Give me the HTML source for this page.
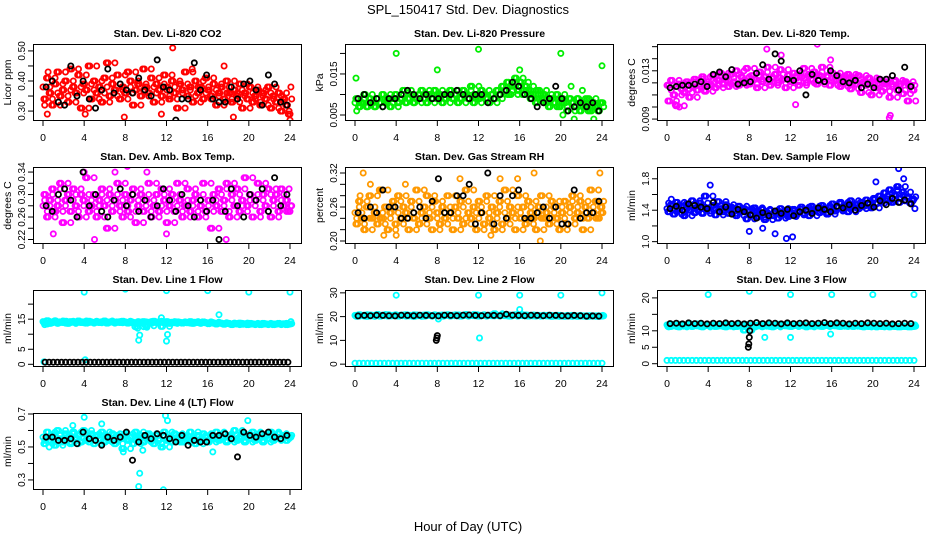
<!DOCTYPE html>
<html><head><meta charset="utf-8"><style>
html,body{margin:0;padding:0;background:#fff}
svg text{font-family:"Liberation Sans",Arial,sans-serif}
</style></head><body>
<svg id="c" width="936" height="540" viewBox="0 0 936 540" xmlns="http://www.w3.org/2000/svg">
<rect width="936" height="540" fill="#fff"/>
<text x="468" y="14" font-size="13" text-anchor="middle">SPL_150417  Std. Dev. Diagnostics</text>
<text x="468" y="531" font-size="13" text-anchor="middle">Hour of Day (UTC)</text>
</svg>
<script>
// ---- data ----
const xTicks=[0,4,8,12,16,20,24];
const co2Red=[0.38,0.34,0.41,0.36,0.32,0.39,0.43,0.35,0.37,0.40,0.33,0.44,0.38,0.36,0.42,0.31,0.39,0.37,0.45,0.34,0.40,0.36,0.38,0.33,0.41,0.46,0.35,0.39,0.37,0.42,0.34,0.38,0.36,0.43,0.40,0.32,0.37,0.39,0.35,0.44,0.38,0.36,0.41,0.33,0.39,0.37,0.35,0.42,0.38,0.34,0.40,0.36,0.31,0.39,0.37,0.43,0.35,0.38,0.33,0.40,0.36,0.38,0.34,0.41,0.37,0.35,0.39,0.32,0.36,0.38,0.34,0.40,0.36,0.33,0.37,0.35,0.39,0.31,0.36,0.34,0.38,0.33,0.35,0.37,0.32,0.36,0.34,0.38,0.31,0.35,0.33,0.36,0.30,0.34,0.32,0.29];
const co2OutX=[0.5,4.1,7.9,11.5,12.6,14.5,17.6,18.5,24];
const co2OutY=[0.43,0.29,0.28,0.29,0.51,0.44,0.45,0.28,0.27];
const co2Black=[0.38,0.40,0.33,0.32,0.45,0.35,0.40,0.34,0.31,0.37,0.44,0.36,0.39,0.37,0.36,0.41,0.37,0.35,0.47,0.38,0.37,0.27,0.34,0.34,0.46,0.37,0.42,0.34,0.33,0.33,0.38,0.34,0.39,0.40,0.37,0.32,0.42,0.39,0.33,0.32];

const presGreen=[0.008,0.009,0.007,0.008,0.010,0.007,0.009,0.008,0.007,0.009,0.008,0.010,0.008,0.009,0.007,0.009,0.010,0.008,0.009,0.011,0.008,0.009,0.010,0.008,0.009,0.010,0.011,0.009,0.008,0.010,0.009,0.011,0.009,0.010,0.008,0.009,0.010,0.011,0.009,0.010,0.008,0.009,0.011,0.010,0.009,0.012,0.008,0.010,0.009,0.011,0.010,0.009,0.008,0.010,0.009,0.011,0.010,0.012,0.011,0.013,0.010,0.012,0.014,0.011,0.013,0.010,0.012,0.011,0.009,0.010,0.008,0.011,0.009,0.010,0.008,0.007,0.009,0.008,0.010,0.007,0.009,0.008,0.006,0.009,0.008,0.007,0.009,0.006,0.008,0.007,0.009,0.006,0.008,0.007,0.006,0.008];
const presOutX=[0.1,4.0,8.0,12.0,16.0,20.0,24.0,21.0,22.1,20.2,21.3,23.2];
const presOutY=[0.014,0.020,0.016,0.021,0.016,0.020,0.017,0.012,0.011,0.005,0.004,0.004];
const presBlack=[0.009,0.010,0.008,0.009,0.007,0.009,0.009,0.010,0.011,0.010,0.009,0.010,0.009,0.009,0.010,0.010,0.011,0.010,0.009,0.010,0.010,0.008,0.009,0.010,0.011,0.013,0.012,0.010,0.009,0.007,0.008,0.009,0.012,0.009,0.006,0.007,0.008,0.007,0.008,0.006];

const tempMag=[0.0118,0.0105,0.0122,0.0110,0.0101,0.0119,0.0115,0.0112,0.0121,0.0108,0.0117,0.0123,0.0114,0.0119,0.0125,0.0113,0.0121,0.0118,0.0126,0.0116,0.0122,0.0128,0.0119,0.0124,0.0117,0.0127,0.0121,0.0130,0.0118,0.0125,0.0122,0.0132,0.0119,0.0126,0.0123,0.0116,0.0129,0.0121,0.0125,0.0133,0.0118,0.0124,0.0127,0.0120,0.0131,0.0123,0.0116,0.0126,0.0121,0.0128,0.0124,0.0118,0.0125,0.0132,0.0120,0.0127,0.0123,0.0129,0.0119,0.0126,0.0133,0.0121,0.0125,0.0118,0.0128,0.0122,0.0126,0.0117,0.0124,0.0120,0.0127,0.0115,0.0123,0.0119,0.0126,0.0112,0.0121,0.0118,0.0124,0.0110,0.0120,0.0116,0.0123,0.0113,0.0119,0.0121,0.0108,0.0117,0.0122,0.0114,0.0119,0.0111,0.0121,0.0105,0.0118,0.0114];
const tempOutX=[0.8,1.2,9.7,11.1,12.5,14.6,15.9,21.7,21.6];
const tempOutY=[0.0102,0.0100,0.0148,0.0143,0.0102,0.0152,0.0139,0.0093,0.0091];
const tempBlack=[0.0116,0.0117,0.0118,0.0118,0.0119,0.0121,0.0117,0.0127,0.0129,0.0125,0.0131,0.0119,0.0120,0.0121,0.0128,0.0135,0.0123,0.0144,0.0138,0.0123,0.0122,0.0130,0.0110,0.0127,0.0122,0.0121,0.0130,0.0126,0.0121,0.0120,0.0122,0.0116,0.0119,0.0116,0.0123,0.0123,0.0126,0.0114,0.0133,0.0117];

const boxMag=[0.28,0.30,0.26,0.29,0.31,0.27,0.28,0.32,0.25,0.29,0.30,0.27,0.31,0.28,0.26,0.30,0.29,0.33,0.27,0.28,0.30,0.26,0.29,0.31,0.28,0.24,0.30,0.27,0.29,0.32,0.28,0.26,0.30,0.27,0.29,0.31,0.25,0.28,0.30,0.27,0.29,0.32,0.26,0.28,0.30,0.27,0.31,0.29,0.25,0.28,0.30,0.27,0.32,0.29,0.26,0.28,0.31,0.27,0.29,0.30,0.26,0.28,0.32,0.27,0.29,0.24,0.30,0.28,0.31,0.27,0.29,0.32,0.26,0.30,0.28,0.31,0.27,0.29,0.33,0.28,0.30,0.26,0.29,0.32,0.27,0.30,0.28,0.31,0.26,0.29,0.30,0.27,0.31,0.28,0.29,0.27];
const boxOutX=[4.0,5.0,7.0,8.2,12.0,17.8,1.0,10.1];
const boxOutY=[0.34,0.22,0.34,0.35,0.23,0.22,0.23,0.34];
const boxBlack=[0.28,0.27,0.30,0.31,0.29,0.26,0.34,0.28,0.30,0.27,0.26,0.29,0.31,0.28,0.30,0.27,0.29,0.26,0.28,0.31,0.29,0.27,0.30,0.28,0.26,0.29,0.27,0.29,0.22,0.27,0.31,0.28,0.26,0.30,0.29,0.31,0.27,0.33,0.28,0.30];

const rhOrange=[0.25,0.23,0.27,0.24,0.22,0.26,0.28,0.24,0.25,0.23,0.29,0.24,0.26,0.22,0.25,0.27,0.23,0.28,0.24,0.26,0.25,0.22,0.27,0.24,0.29,0.23,0.25,0.26,0.28,0.24,0.22,0.27,0.25,0.23,0.26,0.24,0.28,0.25,0.22,0.26,0.24,0.27,0.23,0.29,0.25,0.24,0.26,0.22,0.27,0.25,0.23,0.28,0.24,0.26,0.22,0.25,0.27,0.23,0.29,0.24,0.26,0.25,0.22,0.28,0.24,0.26,0.23,0.27,0.25,0.24,0.22,0.26,0.28,0.24,0.25,0.23,0.27,0.26,0.24,0.22,0.25,0.27,0.23,0.26,0.28,0.24,0.25,0.27,0.22,0.26,0.24,0.29,0.25,0.27,0.24,0.26];
const rhOutX=[0.8,1.5,4.9,10.2,14.1,15.8,17.4,18.0,23.8,0.5,2.8,4.0,13.2];
const rhOutY=[0.32,0.30,0.30,0.31,0.31,0.31,0.32,0.20,0.32,0.28,0.21,0.21,0.21];
const rhBlack=[0.25,0.24,0.26,0.25,0.29,0.26,0.26,0.24,0.24,0.25,0.26,0.24,0.27,0.31,0.25,0.25,0.28,0.28,0.30,0.23,0.25,0.32,0.23,0.28,0.24,0.28,0.29,0.24,0.24,0.25,0.26,0.24,0.26,0.23,0.23,0.29,0.24,0.25,0.25,0.27];

const flowBlue=[1.42,1.38,1.47,1.35,1.50,1.41,1.45,1.33,1.48,1.40,1.52,1.37,1.44,1.49,1.36,1.58,1.43,1.39,1.46,1.34,1.51,1.42,1.38,1.47,1.36,1.44,1.40,1.33,1.45,1.38,1.42,1.29,1.39,1.35,1.43,1.31,1.37,1.41,1.28,1.36,1.40,1.33,1.38,1.30,1.42,1.35,1.39,1.32,1.37,1.41,1.34,1.38,1.44,1.36,1.40,1.33,1.45,1.39,1.42,1.37,1.46,1.40,1.35,1.43,1.48,1.39,1.44,1.50,1.41,1.46,1.38,1.52,1.44,1.47,1.42,1.50,1.45,1.53,1.48,1.43,1.55,1.49,1.58,1.51,1.62,1.54,1.66,1.50,1.59,1.70,1.55,1.63,1.52,1.57,1.49,1.54];
const flowOutX=[4.2,8.0,12.2,9.3,10.5,11.6,22.5,23.0,20.3];
const flowOutY=[1.72,1.13,1.06,1.17,1.10,1.04,1.93,1.80,1.76];
const flowBlack=[1.42,1.45,1.40,1.48,1.46,1.44,1.42,1.50,1.38,1.44,1.35,1.41,1.38,1.34,1.30,1.37,1.33,1.39,1.36,1.41,1.33,1.38,1.40,1.36,1.43,1.41,1.38,1.45,1.43,1.47,1.40,1.46,1.49,1.44,1.52,1.47,1.55,1.50,1.53,1.48];

const l1Cyan=[14.2,13.8,14.5,13.6,14.0,14.4,13.7,14.1,13.9,14.3,13.6,14.2,14.0,13.8,14.4,13.9,14.1,13.7,14.3,14.0,13.8,14.2,13.9,14.1,14.4,13.7,14.0,14.2,13.8,14.1,13.9,14.3,14.0,13.7,14.2,13.8,12.5,14.1,13.9,14.2,12.8,14.0,13.7,14.3,13.9,14.1,12.6,13.8,14.2,13.6,14.0,13.8,14.1,13.9,13.7,14.0,13.8,14.2,13.6,14.0,13.9,13.7,14.1,13.8,13.5,14.0,13.7,13.4,13.8,13.6,13.3,13.7,13.5,13.2,13.6,13.4,13.7,13.3,13.5,13.2,13.6,13.4,13.3,13.5,13.2,13.6,13.4,13.3,13.5,13.2,13.4,13.6,13.3,13.5,13.2,13.4];
const l1OutX=[4,8,12,16,20,24,9.3,9.4,12.0,12.1,9.2,10.1,17.1,11.5,0.1,4.1];
const l1OutY=[24,25,24.5,24.5,24,24,8,9.7,7.7,9.9,12,12.3,16.5,15.5,0.8,1.5];
const l1Black=[0.7,0.7,0.7,0.7,0.7,0.7,0.7,0.7,0.7,0.7,0.7,0.7,0.7,0.7,0.7,0.7,0.7,0.7,0.7,0.7,0.7,0.7,0.7,0.7,0.7,0.7,0.7,0.7,0.7,0.7,0.7,0.7,0.7,0.7,0.7,0.7,0.7,0.7,0.7,0.7,0.7,0.7,0.7,0.7,0.7,0.7,0.7,0.7,0.7,0.7,0.7,0.7,0.7,0.7,0.7,0.7,0.7,0.7,0.7,0.7];

const l2Cyan=[20.5,20.2,20.8,20.4,20.6,20.1,20.7,20.3,20.5,20.9,20.2,20.6,20.4,20.8,20.3,20.5,20.7,20.2,20.6,20.4,20.8,20.3,20.5,20.1,20.7,20.4,20.6,20.2,20.8,20.5,20.3,20.7,20.4,20.6,20.2,20.5,20.8,20.3,20.6,20.4,20.7,20.2,20.5,20.9,20.3,20.6,20.4,20.8,20.2,20.5,20.7,20.3,20.6,20.4,21.2,20.5,20.3,20.7,20.4,20.6,20.2,20.5,20.8,20.3,20.6,20.4,20.7,20.2,20.5,20.3,20.6,20.4,20.2,20.5,20.3,20.6,20.1,20.4,20.2,20.5,20.3,20.1,20.4,20.2,20.5,20.3,20.1,20.4,20.2,20.3,20.1,20.4,20.2,20.3,20.1,20.2];
const l2Base=[0.4,0.4,0.4,0.4,0.4,0.4,0.4,0.4,0.4,0.4,0.4,0.4,0.4,0.4,0.4,0.4,0.4,0.4,0.4,0.4,0.4,0.4,0.4,0.4,0.4,0.4,0.4,0.4,0.4,0.4,0.4,0.4,0.4,0.4,0.4,0.4,0.4,0.4,0.4,0.4,0.4,0.4,0.4,0.4,0.4,0.4,0.4,0.4,0.4,0.4,0.4,0.4,0.4,0.4,0.4,0.4,0.4,0.4,0.4,0.4];
const l2OutX=[4,8,12,16,20,24,12.1,16.0,8.1];
const l2OutY=[29,33,29,29,29,30,11,23,19];
const l2Black=[20.3,20.5,20.4,20.6,20.5,20.4,20.3,20.6,20.5,20.4,20.6,20.5,20.4,20.3,20.6,20.5,20.4,20.6,20.7,20.5,20.4,20.6,20.5,20.4,21.0,20.6,20.5,20.4,20.6,20.5,20.4,20.6,20.5,20.4,20.3,20.5,20.4,20.2,20.3,20.2];
const l2BlackOutX=[7.9,7.95,8.0];
const l2BlackOutY=[10,11,12];

const l3Cyan=[11.8,11.3,12.0,11.5,11.7,11.2,11.9,11.4,11.6,12.1,11.3,11.7,11.5,11.9,11.2,11.6,11.8,11.4,11.7,11.3,11.9,11.5,11.6,11.2,11.8,11.4,11.6,11.3,11.9,11.5,10.2,11.8,11.4,11.6,11.2,11.5,11.9,11.3,11.7,11.4,11.8,11.2,11.6,12.0,11.4,11.7,11.5,11.9,11.3,11.6,11.8,11.4,11.7,11.5,11.2,11.6,11.4,11.8,11.5,11.7,11.3,11.6,11.9,11.4,11.7,11.5,11.8,11.3,11.6,11.4,11.7,11.5,11.3,11.6,11.4,11.7,11.2,11.5,11.3,11.6,11.4,11.2,11.5,11.3,11.6,11.4,11.2,11.5,11.3,11.4,11.2,11.5,11.3,11.4,11.2,11.3];
const l3Base=[1.0,1.0,1.0,1.0,1.0,1.0,1.0,1.0,1.0,1.0,1.0,1.0,1.0,1.0,1.0,1.0,1.0,1.0,1.0,1.0,1.0,1.0,1.0,1.0,1.0,1.0,1.0,1.0,1.0,1.0,1.0,1.0,1.0,1.0,1.0,1.0,1.0,1.0,1.0,1.0,1.0,1.0,1.0,1.0,1.0,1.0,1.0,1.0,1.0,1.0,1.0,1.0,1.0,1.0,1.0,1.0,1.0,1.0,1.0,1.0];
const l3OutX=[4,8,12,16,20,24,12,9.5,15.9];
const l3OutY=[21,22,21,21,21,21,8,8,9];
const l3Black=[12.2,12.3,12.1,12.4,12.2,12.3,12.1,12.3,12.2,12.4,12.2,12.3,12.1,12.3,12.5,12.2,12.4,12.3,12.1,12.4,12.2,12.3,12.4,12.2,12.3,12.5,12.2,12.4,12.3,12.1,12.3,12.2,12.4,12.3,12.2,12.3,12.1,12.2,12.3,12.2];
const l3BlackOutX=[7.9,7.95,8.0,8.05];
const l3BlackOutY=[5,6,8,10];

const l4Cyan=[0.56,0.52,0.59,0.54,0.57,0.51,0.60,0.55,0.53,0.58,0.56,0.52,0.59,0.55,0.57,0.53,0.60,0.54,0.56,0.58,0.52,0.57,0.55,0.59,0.53,0.56,0.54,0.58,0.52,0.57,0.55,0.49,0.58,0.54,0.56,0.52,0.59,0.55,0.57,0.53,0.56,0.58,0.54,0.52,0.57,0.55,0.50,0.59,0.54,0.56,0.53,0.58,0.55,0.57,0.53,0.56,0.54,0.59,0.55,0.52,0.57,0.54,0.58,0.56,0.53,0.57,0.55,0.59,0.54,0.56,0.58,0.53,0.57,0.55,0.60,0.54,0.56,0.58,0.53,0.57,0.55,0.59,0.54,0.56,0.58,0.53,0.57,0.55,0.59,0.54,0.56,0.58,0.55,0.57,0.54,0.56];
const l4OutX=[4.0,9.3,9.4,11.7,11.9,12.1,16.5,19.9,2.9,5.7,7.8,0.6,9.7];
const l4OutY=[0.68,0.26,0.34,0.24,0.69,0.66,0.47,0.66,0.63,0.64,0.47,0.50,0.48];
const l4Black=[0.56,0.56,0.54,0.54,0.55,0.52,0.59,0.55,0.54,0.51,0.56,0.54,0.56,0.59,0.42,0.53,0.57,0.55,0.58,0.57,0.55,0.53,0.57,0.51,0.54,0.53,0.53,0.57,0.57,0.58,0.55,0.44,0.59,0.57,0.56,0.58,0.59,0.56,0.55,0.57];

// ---- panels ----
const panels=[
 {id:'co2',title:'Stan. Dev. Li-820 CO2',ylab:'Licor ppm',col:'#ff0000',ymin:0.267,ymax:0.523,ticks:[0.30,0.35,0.40,0.45,0.50],labs:['0.30','','0.40','','0.50'],main:co2Red,ox:co2OutX,oy:co2OutY,blk:co2Black},
 {id:'pressure',title:'Stan. Dev. Li-820 Pressure',ylab:'kPa',col:'#00ee00',ymin:0.00354,ymax:0.0223,ticks:[0.005,0.010,0.015,0.020],labs:['0.005','','0.015',''],main:presGreen,ox:presOutX,oy:presOutY,blk:presBlack},
 {id:'temp',title:'Stan. Dev. Li-820 Temp.',ylab:'degrees C',col:'#ff00ff',ymin:0.00884,ymax:0.01522,ticks:[0.009,0.010,0.011,0.012,0.013,0.014,0.015],labs:['0.009','','','','0.013','',''],main:tempMag,ox:tempOutX,oy:tempOutY,blk:tempBlack},
 {id:'ambbox',title:'Stan. Dev. Amb. Box Temp.',ylab:'degrees C',col:'#ff00ff',ymin:0.212,ymax:0.349,ticks:[0.22,0.24,0.26,0.28,0.30,0.32,0.34],labs:['0.22','','0.26','','0.30','','0.34'],main:boxMag,ox:boxOutX,oy:boxOutY,blk:boxBlack},
 {id:'rh',title:'Stan. Dev. Gas Stream RH',ylab:'percent',col:'#ff9900',ymin:0.1947,ymax:0.3306,ticks:[0.20,0.22,0.24,0.26,0.28,0.30,0.32],labs:['0.20','','','0.26','','','0.32'],main:rhOrange,ox:rhOutX,oy:rhOutY,blk:rhBlack},
 {id:'sampleflow',title:'Stan. Dev. Sample Flow',ylab:'ml/min',col:'#0000ff',ymin:0.97,ymax:1.95,ticks:[1.0,1.2,1.4,1.6,1.8],labs:['1.0','','1.4','','1.8'],main:flowBlue,ox:flowOutX,oy:flowOutY,blk:flowBlack},
 {id:'line1',title:'Stan. Dev. Line 1 Flow',ylab:'ml/min',col:'#00ffff',ymin:-0.9,ymax:24.7,ticks:[0,5,10,15,20],labs:['0','5','','15',''],main:l1Cyan,ox:l1OutX,oy:l1OutY,blk:l1Black},
 {id:'line2',title:'Stan. Dev. Line 2 Flow',ylab:'ml/min',col:'#00ffff',ymin:-1.2,ymax:31.2,ticks:[0,10,20,30],labs:['0','10','20','30'],main:l2Cyan,base:l2Base,ox:l2OutX,oy:l2OutY,blk:l2Black,bx:l2BlackOutX,by:l2BlackOutY},
 {id:'line3',title:'Stan. Dev. Line 3 Flow',ylab:'ml/min',col:'#00ffff',ymin:-1.0,ymax:22.4,ticks:[0,5,10,15,20],labs:['0','5','10','','20'],main:l3Cyan,base:l3Base,ox:l3OutX,oy:l3OutY,blk:l3Black,bx:l3BlackOutX,by:l3BlackOutY},
 {id:'line4',title:'Stan. Dev. Line 4 (LT) Flow',ylab:'ml/min',col:'#00ffff',ymin:0.239,ymax:0.706,ticks:[0.3,0.4,0.5,0.6,0.7],labs:['0.3','','0.5','','0.7'],main:l4Cyan,ox:l4OutX,oy:l4OutY,blk:l4Black}
];
const NS='http://www.w3.org/2000/svg';
const svg=document.getElementById('c');
function mk(tag,attrs,parent){const e=document.createElementNS(NS,tag);for(const k in attrs)e.setAttribute(k,attrs[k]);parent.appendChild(e);return e;}
panels.forEach((p,i)=>{
 const c=i%3,r=Math.floor(i/3);
 const L=c*312+33,R=c*312+302,T=44+r*123,B=121+r*123;
 const xs=h=>c*312+43+h*(247/24);
 const ys=v=>B-(v-p.ymin)/(p.ymax-p.ymin)*(B-T);
 const g=mk('g',{},svg);
 
 
 const t=mk('text',{x:(L+R)/2,y:T-7,'font-size':10.5,'font-weight':'bold','text-anchor':'middle'},g);
 t.textContent=p.title;
 
 
 const yl=mk('text',{x:L-22,y:(T+B)/2,'font-size':10.5,'text-anchor':'middle',transform:`rotate(-90 ${L-22} ${(T+B)/2})`},g);
 yl.textContent=p.ylab;
 
 
 const clip=mk('clipPath',{id:'cl'+i},g);mk('rect',{x:L,y:T,width:R-L,height:B-T},clip);
 const pts=mk('g',{'clip-path':`url(#cl${i})`,fill:'none','stroke-width':1.8},g);
 
 
 const dot=(x,y,col)=>{const e=mk('circle',{cx:xs(x).toFixed(1),cy:ys(y).toFixed(1),r:2.6,stroke:col},pts);};
 const n=p.main.length;
 if(p.base){const m=p.base.length;p.base.forEach((v,k)=>dot(k*24/(m-1),v,p.col));}
 // dense cloud: every value plus shuffled neighbours at sub-interval offsets
 const step=24/(n-1);
 p.main.forEach((v,k)=>{
   dot(k*step,v,p.col);
   dot(k*step+step/3,p.main[(k+1)%n],p.col);
   dot(k*step+2*step/3,p.main[(k+n-2)%n],p.col);
 });
 p.ox.forEach((x,k)=>dot(x,p.oy[k],p.col));
 const nb=p.blk.length;
 p.blk.forEach((v,k)=>dot((k+0.5)*24/nb,v,'#000'));
 if(p.bx)p.bx.forEach((x,k)=>dot(x,p.by[k],'#000'));
 mk('rect',{x:L+0.5,y:T+0.5,width:R-L-1,height:B-T-1,fill:'none',stroke:'#000','stroke-width':1},g);
 xTicks.forEach(h=>{const x=xs(h);mk('line',{x1:x,x2:x,y1:B,y2:B+5,stroke:'#000'},g);
  const tx=mk('text',{x:x,y:B+20,'font-size':10.5,'text-anchor':'middle'},g);tx.textContent=h;
  });
 p.ticks.forEach((v,k)=>{const y=ys(v);mk('line',{x1:L-5,x2:L,y1:y,y2:y,stroke:'#000'},g);
  if(p.labs[k]){const ty=mk('text',{x:L-8,y:y,'font-size':10,'text-anchor':'middle',transform:`rotate(-90 ${L-8} ${y})`},g);ty.textContent=p.labs[k];
  }});
});
</script>
</body></html>
